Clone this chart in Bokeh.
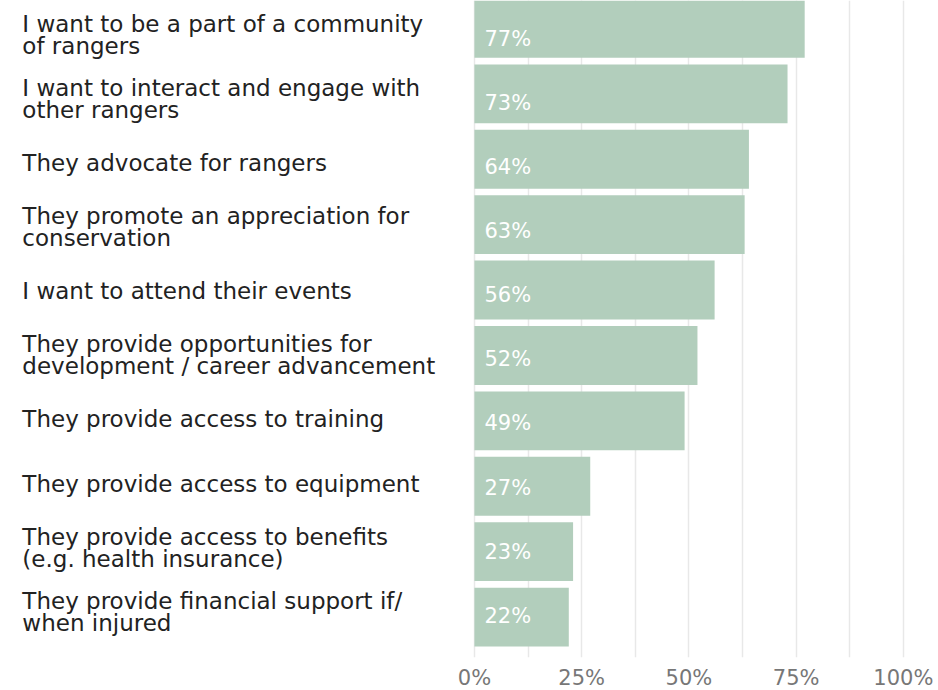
from bokeh.plotting import figure
from bokeh.models import Range1d, FixedTicker, ColumnDataSource, CustomJSTickFormatter
from bokeh.core.properties import value
from bokeh.embed import file_html
from bokeh.resources import INLINE

categories = [
    "I want to be a part of a community\nof rangers",
    "I want to interact and engage with\nother rangers",
    "They advocate for rangers",
    "They promote an appreciation for\nconservation",
    "I want to attend their events",
    "They provide opportunities for\ndevelopment / career advancement",
    "They provide access to training",
    "They provide access to equipment",
    "They provide access to benefits\n(e.g. health insurance)",
    "They provide financial support if/\nwhen injured",
]
values = [77, 73, 64, 63, 56, 52, 49, 27, 23, 22]
tick_values = [0, 25, 50, 75, 100]
grid_values = [0, 12.5, 25, 37.5, 50, 62.5, 75, 87.5, 100]

FONT = "DejaVu Sans"
BAR = "#b2cebc"

pos = list(range(len(categories)))
# labels sit on their own slightly tighter band than the bars
label_pos = [0.086 + 0.9795 * i for i in pos]
src = ColumnDataSource(dict(
    y=pos, ly=label_pos, v=values, cat=categories,
    lab=[f"{v}%" for v in values],
    zero=[0] * len(values),
    lx=[-105.4] * len(values),
))

p = figure(width=938, height=690, frame_width=938, frame_height=657,
           output_backend="svg", toolbar_location=None,
           x_range=Range1d(-110.5, 108.2), y_range=Range1d(9.618, -0.427),
           min_border_left=0, min_border_right=0, min_border_top=0, min_border_bottom=33)
p.outline_line_color = None
p.yaxis.visible = False
p.ygrid.visible = False

p.xgrid.ticker = FixedTicker(ticks=grid_values)
p.xgrid.bounds = (0, 100)
p.xgrid.grid_line_color = "#e8e8e8"
p.xgrid.grid_line_width = 1.5

ax = p.xaxis[0]
ax.ticker = FixedTicker(ticks=tick_values)
ax.formatter = CustomJSTickFormatter(code="return tick + '%';")
ax.axis_line_color = None
ax.major_tick_line_color = None
ax.minor_tick_line_color = None
ax.major_tick_out = 0
ax.major_tick_in = 0
ax.major_label_standoff = 8
ax.major_label_text_font = FONT
ax.major_label_text_font_size = "21px"
ax.major_label_text_color = "#777777"

p.hbar(y="y", left="zero", right="v", height=0.9, source=src,
       fill_color=BAR, line_color=None)

p.text(x="zero", y="ly", text="lab", source=src, x_offset=10, y_offset=5,
       text_font=value(FONT), text_font_size="21px", text_color="white",
       text_baseline="middle", text_align="left")

p.text(x="lx", y="ly", text="cat", source=src, y_offset=1,
       text_font=value(FONT), text_font_size="23px", text_color="#222222",
       text_baseline="middle", text_align="left", text_line_height=0.85)

open("out.html", "w").write(file_html(p, INLINE))
